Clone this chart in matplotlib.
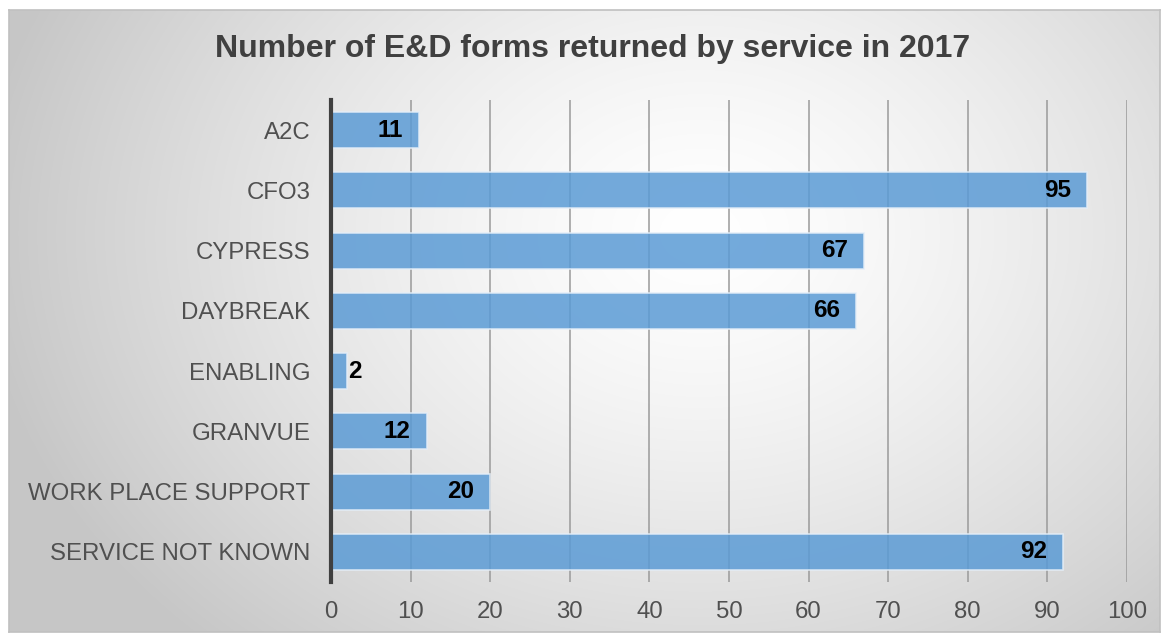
import numpy as np
from matplotlib import pyplot as plt

# forms returned per service
services = ['A2C', 'CFO3', 'CYPRESS', 'DAYBREAK', 'ENABLING', 'GRANVUE',
            'WORK PLACE SUPPORT', 'SERVICE NOT KNOWN']
forms = [11, 95, 67, 66, 2, 12, 20, 92]
x_ticks = [0, 10, 20, 30, 40, 50, 60, 70, 80, 90, 100]

W, H = 1165, 634
fig = plt.figure(figsize=(W / 100, H / 100), dpi=100)
fig.patch.set_facecolor('white')

# chart area with a radial grey gradient
x0, y0, x1, y1 = 9, 2, 1160, 624   # pixels from bottom-left
bg = fig.add_axes([x0 / W, y0 / H, (x1 - x0) / W, (y1 - y0) / H])
gx, gy = np.meshgrid(np.arange(x0, x1), np.arange(y0, y1))
cx, cy = 700, 400
r = np.sqrt(((gx - cx) / 720.0) ** 2 + ((gy - cy) / 560.0) ** 2)
shade = 1.0 - 0.22 * np.clip(r, 0, 1) ** 1.4
img = np.dstack([shade, shade, shade])
bg.imshow(img, origin='lower', aspect='auto', extent=[0, 1, 0, 1])
bg.set_xlim(0, 1)
bg.set_ylim(0, 1)
bg.set_xticks([])
bg.set_yticks([])
for s in bg.spines.values():
    s.set_color('#c0c0c0')
    s.set_linewidth(1.2)

fig.text(593 / W, 1 - 49 / H, 'Number of E&D forms returned by service in 2017',
         ha='center', va='center', fontsize=23, fontweight='bold',
         color='#404040', family='Liberation Sans')

ax = fig.add_axes([331 / W, 52 / H, 796 / W, 482 / H])
ax.patch.set_alpha(0)

ypos = np.arange(len(services))
ax.barh(ypos, forms, height=0.6, color='#5b9bd5', alpha=0.85,
        edgecolor='#e4eef8', linewidth=1.2, zorder=2)

for y, v in zip(ypos, forms):
    if v < 5:
        ax.text(v + 0.1, y, str(v), ha='left', va='center', fontsize=17.5,
                fontweight='bold', color='black', family='Liberation Sans', zorder=3)
    else:
        ax.text(v - 2.0, y, str(v), ha='right', va='center', fontsize=17.5,
                fontweight='bold', color='black', family='Liberation Sans', zorder=3)

ax.set_xlim(0, 100)
ax.set_ylim(len(services) - 0.5, -0.5)
ax.set_xticks(x_ticks)
ax.set_yticks(ypos)
ax.set_yticklabels(services)
ax.grid(axis='x', color='#9a9a9a', linewidth=1.1, zorder=1)
ax.tick_params(axis='both', length=0, labelsize=17.3, labelcolor='#505050')
ax.tick_params(axis='x', pad=14)
ax.tick_params(axis='y', pad=15)
for lab in ax.get_xticklabels() + ax.get_yticklabels():
    lab.set_family('Liberation Sans')
for side in ['top', 'right', 'bottom']:
    ax.spines[side].set_visible(False)
ax.spines['left'].set_color('#404040')
ax.spines['left'].set_linewidth(3)
ax.spines['left'].set_zorder(4)

fig.savefig('out.png', dpi=100)
